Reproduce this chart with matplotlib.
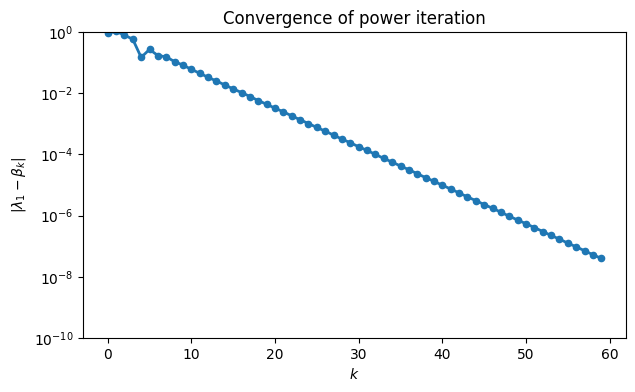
import matplotlib
matplotlib.use("Agg")
import matplotlib.pyplot as plt
import numpy as np

k = list(range(60))
err = [9.1e-1, 1.05e0, 7.9e-1, 5.8e-1, 1.48e-1, 2.7e-1, 1.7e-1, 1.55e-1, 1.07e-1, 8.3e-2,
       6.0e-2, 4.5e-2, 3.3e-2, 2.5e-2, 1.86e-2, 1.38e-2, 1.05e-2, 7.8e-3, 5.75e-3, 4.35e-3,
       3.24e-3, 2.45e-3, 1.82e-3, 1.35e-3, 1.02e-3, 7.6e-4, 5.75e-4, 4.27e-4, 3.16e-4, 2.4e-4,
       1.78e-4, 1.35e-4, 1.0e-4, 7.4e-5, 5.6e-5, 4.17e-5, 3.16e-5, 2.34e-5, 1.74e-5, 1.32e-5,
       9.8e-6, 7.4e-6, 5.5e-6, 4.07e-6, 3.09e-6, 2.29e-6, 1.74e-6, 1.29e-6, 9.5e-7, 7.2e-7,
       5.4e-7, 4.07e-7, 3.02e-7, 2.24e-7, 1.7e-7, 1.26e-7, 9.5e-8, 7.1e-8, 5.25e-8, 4.0e-8]

fig = plt.figure(figsize=(6.35, 3.92), dpi=100)
ax = fig.add_axes([83/635, 1-338/392, (626-83)/635, (338-32)/392])
ax.semilogy(k, err, 'o-', color='#1f77b4', lw=2, ms=4.5)
ax.set_ylim(1e-10, 1)
ax.set_xlabel('$k$')
ax.set_ylabel(r'$|\lambda_1 - \beta_k|$')
ax.set_title('Convergence of power iteration')
fig.savefig('out.png', dpi=100)
